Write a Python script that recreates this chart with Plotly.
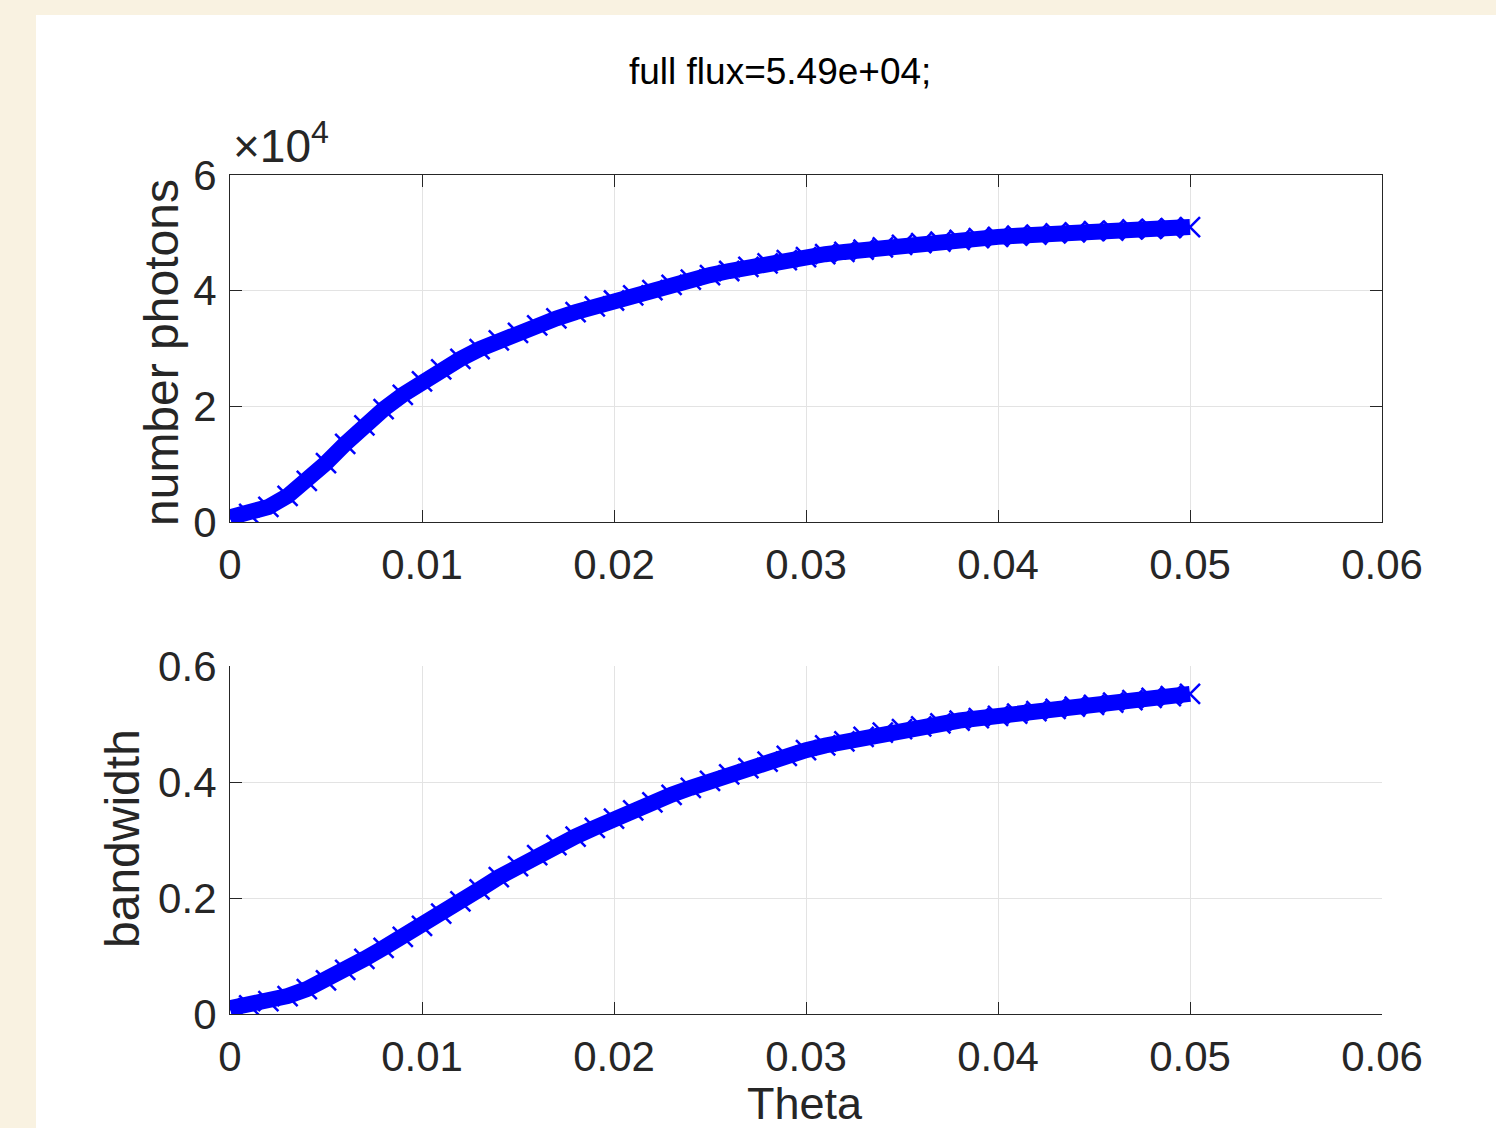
import plotly.graph_objects as go

# Scan angle (rad)
theta = [
    0.000, 0.001, 0.002, 0.003, 0.004, 0.005, 0.006, 0.007, 0.008, 0.009,
    0.010, 0.011, 0.012, 0.013, 0.014, 0.015, 0.016, 0.017, 0.018, 0.019,
    0.020, 0.021, 0.022, 0.023, 0.024, 0.025, 0.026, 0.027, 0.028, 0.029,
    0.030, 0.031, 0.032, 0.033, 0.034, 0.035, 0.036, 0.037, 0.038, 0.039,
    0.040, 0.041, 0.042, 0.043, 0.044, 0.045, 0.046, 0.047, 0.048, 0.049,
    0.050,
]

# Photons collected inside the aperture
photons = [
    800, 1400, 2600, 4500, 7100, 10200, 13500, 16700, 19500, 22000,
    24300, 26400, 28200, 29900, 31400, 32700, 34000, 35200, 36300, 37300,
    38300, 39200, 40100, 41000, 41900, 42700, 43400, 44100, 44700, 45300,
    45800, 46300, 46700, 47100, 47500, 47900, 48200, 48500, 48800, 49100,
    49300, 49500, 49700, 49900, 50100, 50300, 50400, 50600, 50700, 50800,
    51000,
]

# Relative bandwidth
bandwidth = [
    0.010, 0.015, 0.022, 0.031, 0.043, 0.058, 0.076, 0.095, 0.114, 0.133,
    0.152, 0.173, 0.194, 0.215, 0.236, 0.255, 0.274, 0.291, 0.306, 0.321,
    0.337, 0.351, 0.365, 0.378, 0.390, 0.402, 0.413, 0.424, 0.435, 0.445,
    0.455, 0.463, 0.470, 0.478, 0.485, 0.491, 0.496, 0.501, 0.506, 0.510,
    0.514, 0.518, 0.522, 0.526, 0.530, 0.533, 0.537, 0.541, 0.545, 0.548,
    0.552,
]

x_ticks = [0, 0.01, 0.02, 0.03, 0.04, 0.05, 0.06]
x_ticktext = ["0", "0.01", "0.02", "0.03", "0.04", "0.05", "0.06"]
photon_ticks = [0, 20000, 40000, 60000]
photon_ticktext = ["0", "2", "4", "6"]
bw_ticks = [0, 0.2, 0.4, 0.6]
bw_ticktext = ["0", "0.2", "0.4", "0.6"]

full_flux = 5.49e4
title_text = f"full flux={full_flux:.2e};"

W, H = 1496, 1128
FONT = "Liberation Sans, Arial, Helvetica, sans-serif"
INK = "#262626"
GRID = "#e3e3e3"
BLUE = "#0000ff"


def px_x(p):
    return p / W


def px_y(p):
    return 1 - p / H


fig = go.Figure()

for yref_axis, yvals in (("y", photons), ("y2", bandwidth)):
    xa = "x" if yref_axis == "y" else "x2"
    # thick band under the markers
    fig.add_trace(go.Scatter(
        x=theta, y=yvals, xaxis=xa, yaxis=yref_axis, mode="lines",
        line=dict(color=BLUE, width=16), hoverinfo="skip", showlegend=False,
    ))
    fig.add_trace(go.Scatter(
        x=theta, y=yvals, xaxis=xa, yaxis=yref_axis, mode="markers",
        marker=dict(symbol="x-thin", size=20, color=BLUE,
                    line=dict(color=BLUE, width=2.5)),
        showlegend=False,
    ))

axis_common = dict(
    showline=True, linecolor=INK, linewidth=1.2,
    ticks="inside", ticklen=12, tickwidth=1.2, tickcolor=INK,
    showgrid=True, gridcolor=GRID, gridwidth=1,
    zeroline=False, tickfont=dict(family=FONT, size=42, color=INK),
    fixedrange=True, automargin=False,
)

top_x = [px_x(230), px_x(1382)]
fig.update_layout(
    template="none",
    width=W, height=H,
    margin=dict(l=0, r=0, t=0, b=0, pad=0, autoexpand=False),
    paper_bgcolor="#f9f2e1",
    plot_bgcolor="white",
    showlegend=False,
    xaxis=dict(axis_common, domain=top_x, range=[0, 0.06],
               tickvals=x_ticks, ticktext=x_ticktext, mirror="allticks",
               anchor="y", ticklabelstandoff=5),
    yaxis=dict(axis_common, domain=[px_y(522), px_y(175)], range=[0, 60000],
               tickvals=photon_ticks, ticktext=photon_ticktext,
               mirror="allticks", anchor="x", ticklabelstandoff=4),
    xaxis2=dict(axis_common, domain=top_x, range=[0, 0.06],
                tickvals=x_ticks, ticktext=x_ticktext, anchor="y2",
                ticklabelstandoff=5),
    yaxis2=dict(axis_common, domain=[px_y(1014), px_y(666)], range=[0, 0.6],
                tickvals=bw_ticks, ticktext=bw_ticktext, anchor="x2",
                ticklabelstandoff=4),
    shapes=[
        # white figure panel over the backdrop
        dict(type="rect", xref="paper", yref="paper", layer="below",
             x0=px_x(36), x1=1.0, y0=0.0, y1=px_y(15),
             fillcolor="white", line=dict(width=0)),
    ],
    annotations=[
        dict(text=title_text, x=px_x(780), y=px_y(72), xref="paper", yref="paper",
             showarrow=False, xanchor="center", yanchor="middle",
             font=dict(family=FONT, size=37, color="black")),
        dict(text="×10<sup>4</sup>", x=px_x(231), y=px_y(174), xref="paper",
             yref="paper", showarrow=False, xanchor="left", yanchor="bottom",
             font=dict(family=FONT, size=46, color=INK)),
        dict(text="number photons", x=px_x(161), y=px_y(353), xref="paper",
             yref="paper", showarrow=False, textangle=-90,
             xanchor="center", yanchor="middle",
             font=dict(family=FONT, size=48, color=INK)),
        dict(text="bandwidth", x=px_x(122), y=px_y(839), xref="paper",
             yref="paper", showarrow=False, textangle=-90,
             xanchor="center", yanchor="middle",
             font=dict(family=FONT, size=48, color=INK)),
        dict(text="Theta", x=px_x(805), y=px_y(1103), xref="paper",
             yref="paper", showarrow=False, xanchor="center", yanchor="middle",
             font=dict(family=FONT, size=45, color=INK)),
    ],
)

fig.write_html("out.html")
